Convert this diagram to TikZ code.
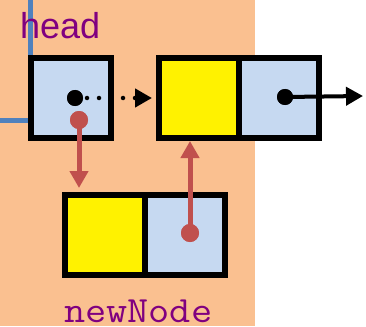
\documentclass[tikz,border=0pt]{standalone}
\usepackage{fontspec}
\usepackage{graphicx}
\setsansfont{Liberation Sans}
\usetikzlibrary{arrows.meta}
\definecolor{bgorange}{HTML}{FAC090}
\definecolor{lblue}{HTML}{C6D9F1}
\definecolor{linkblue}{HTML}{4F81BD}
\definecolor{rred}{HTML}{C0504D}
\definecolor{lblpurple}{HTML}{800080}
\tikzset{
  cell/.style={draw=black, line width=6pt, minimum width=80pt, minimum height=80pt, inner sep=0pt},
  datacell/.style={cell, fill=yellow},
  ptrcell/.style={cell, fill=lblue},
  bdot/.style={circle, fill=black, minimum size=16pt, inner sep=0pt},
  rdot/.style={circle, fill=rred, minimum size=18pt, inner sep=0pt},
  tri/.style={-{Triangle[length=17pt,width=18pt]}},
  redarrow/.style={tri, draw=rred, line width=5pt},
  blkarrow/.style={tri, draw=black, line width=4pt},
  dotarrow/.style={tri, draw=black, line width=4.5pt, line cap=round, dash pattern=on 0pt off 12pt},
  linkline/.style={draw=linkblue, line width=5pt},
  lbl/.style={inner sep=0pt, text=lblpurple, anchor=base west}
}
\begin{document}
\begin{tikzpicture}[x=1pt,y=-1pt]
\useasboundingbox (0,0) rectangle (366,326);
\fill[bgorange] (0,0) rectangle (255,326);
% head pointer line
\coordinate (lA) at (0,120);
\coordinate (lB) at (30.5,120);
\coordinate (lC) at (30.5,0);
\draw[linkline] (lA) -- (lB) -- (lC);
% label head
\node[lbl, font=\sffamily\fontsize{36}{40}\selectfont] (headlbl) at (20,39) {head};
% cells
\node[ptrcell] (hd) at (71,98) {};
\node[datacell] (n2y) at (199,98) {};
\node[ptrcell] (n2b) at (279,98) {};
\node[datacell] (ny) at (105,235) {};
\node[ptrcell] (nb) at (185,235) {};
% label newNode
\node[lbl, font=\ttfamily\fontsize{37}{40}\selectfont] (nnlbl) at (64,322) {\scalebox{1.11}[1]{newNode}};
% dots
\node[bdot] (hp) at (75,98) {};
\node[rdot] (hr) at (79,120) {};
\node[bdot] (n2p) at (285,97) {};
\node[rdot] (nr) at (190,233) {};
\coordinate (nxt) at (363,96);
% connectors
\draw[dotarrow, shorten >=4pt] (hp.center) -- (n2y.west);
\draw[redarrow, shorten >=4pt] (hr.center) -- (hr |- ny.north);
\draw[redarrow] (nr.center) -- (nr |- n2y.south);
\draw[blkarrow] (n2p.center) -- (nxt);
\node[bdot] at (hp) {};
\node[rdot] at (hr) {};
\node[bdot] at (n2p) {};
\node[rdot] at (nr) {};
\end{tikzpicture}
\end{document}
